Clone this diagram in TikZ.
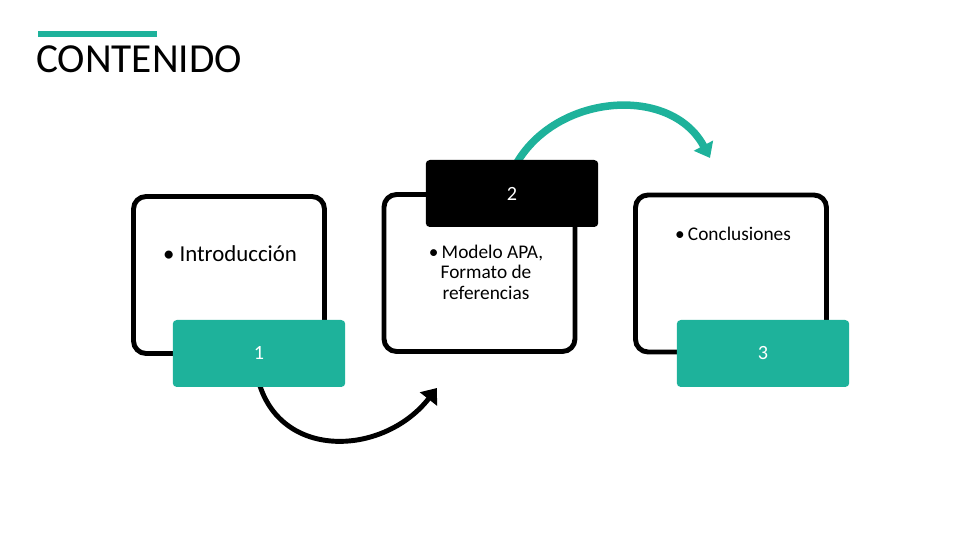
\documentclass[tikz,border=0pt]{standalone}
\usepackage{fontspec}
\setmainfont{Carlito}
\usetikzlibrary{arrows.meta}
\definecolor{tealc}{RGB}{30,178,155}

\begin{document}
\begin{tikzpicture}[
  x=0.02cm, y=0.02cm,
  every node/.style={font=\fontsize{11}{11.7}\selectfont},
  frame/.style={draw, line width=2.8pt, rounded corners=0.25cm,
    minimum width=3.82cm, minimum height=3.14cm},
  tab/.style={fill=tealc, rounded corners=0.08cm, text=white,
    minimum width=3.45cm, minimum height=1.34cm,
    font=\fontsize{11.5}{13}\selectfont},
  darktab/.style={tab, fill=black},
  curve/.style={line width=2.8pt, -{Triangle[length=0.28cm,width=0.42cm]}}
]
\useasboundingbox (0,0) rectangle (960,540);

% title
\draw[tealc, line width=0.11cm] (38,506) -- (157,506);
\node[anchor=base west, font=\fontsize{23.5}{27}\selectfont] (title) at (30,467) {CONTENIDO};

% frames
\node[frame] (box1) at (229,265) {};
\node[frame] (box2) at (479.5,267) {};
\node[frame] (box3) at (731,266.5) {};

% texts
\node (intro) at (230,286) {\fontsize{13}{15}\selectfont\textbullet\ Introducción};
\node[align=center] (apa) at (486,268) {\textbullet\,Modelo APA,\\Formato de\\referencias};
\node (concl) at (733,306) {\textbullet\,Conclusiones};

% arrows
\coordinate (s1) at (257,165);
\coordinate (e1) at (437,152);
\draw[curve] (s1) to[out=-78, in=-128, looseness=1.25] (e1);
\coordinate (s2) at (513,370);
\coordinate (e2) at (710,382);
\draw[curve, tealc, line width=0.15cm] (s2) to[out=64, in=118, looseness=1.1] (e2);

% tabs
\node[tab] (tab1) at (259,186.5) {1};
\node[darktab] (tab2) at (512,346.5) {2};
\node[tab] (tab3) at (763,186.5) {3};

\end{tikzpicture}
\end{document}
